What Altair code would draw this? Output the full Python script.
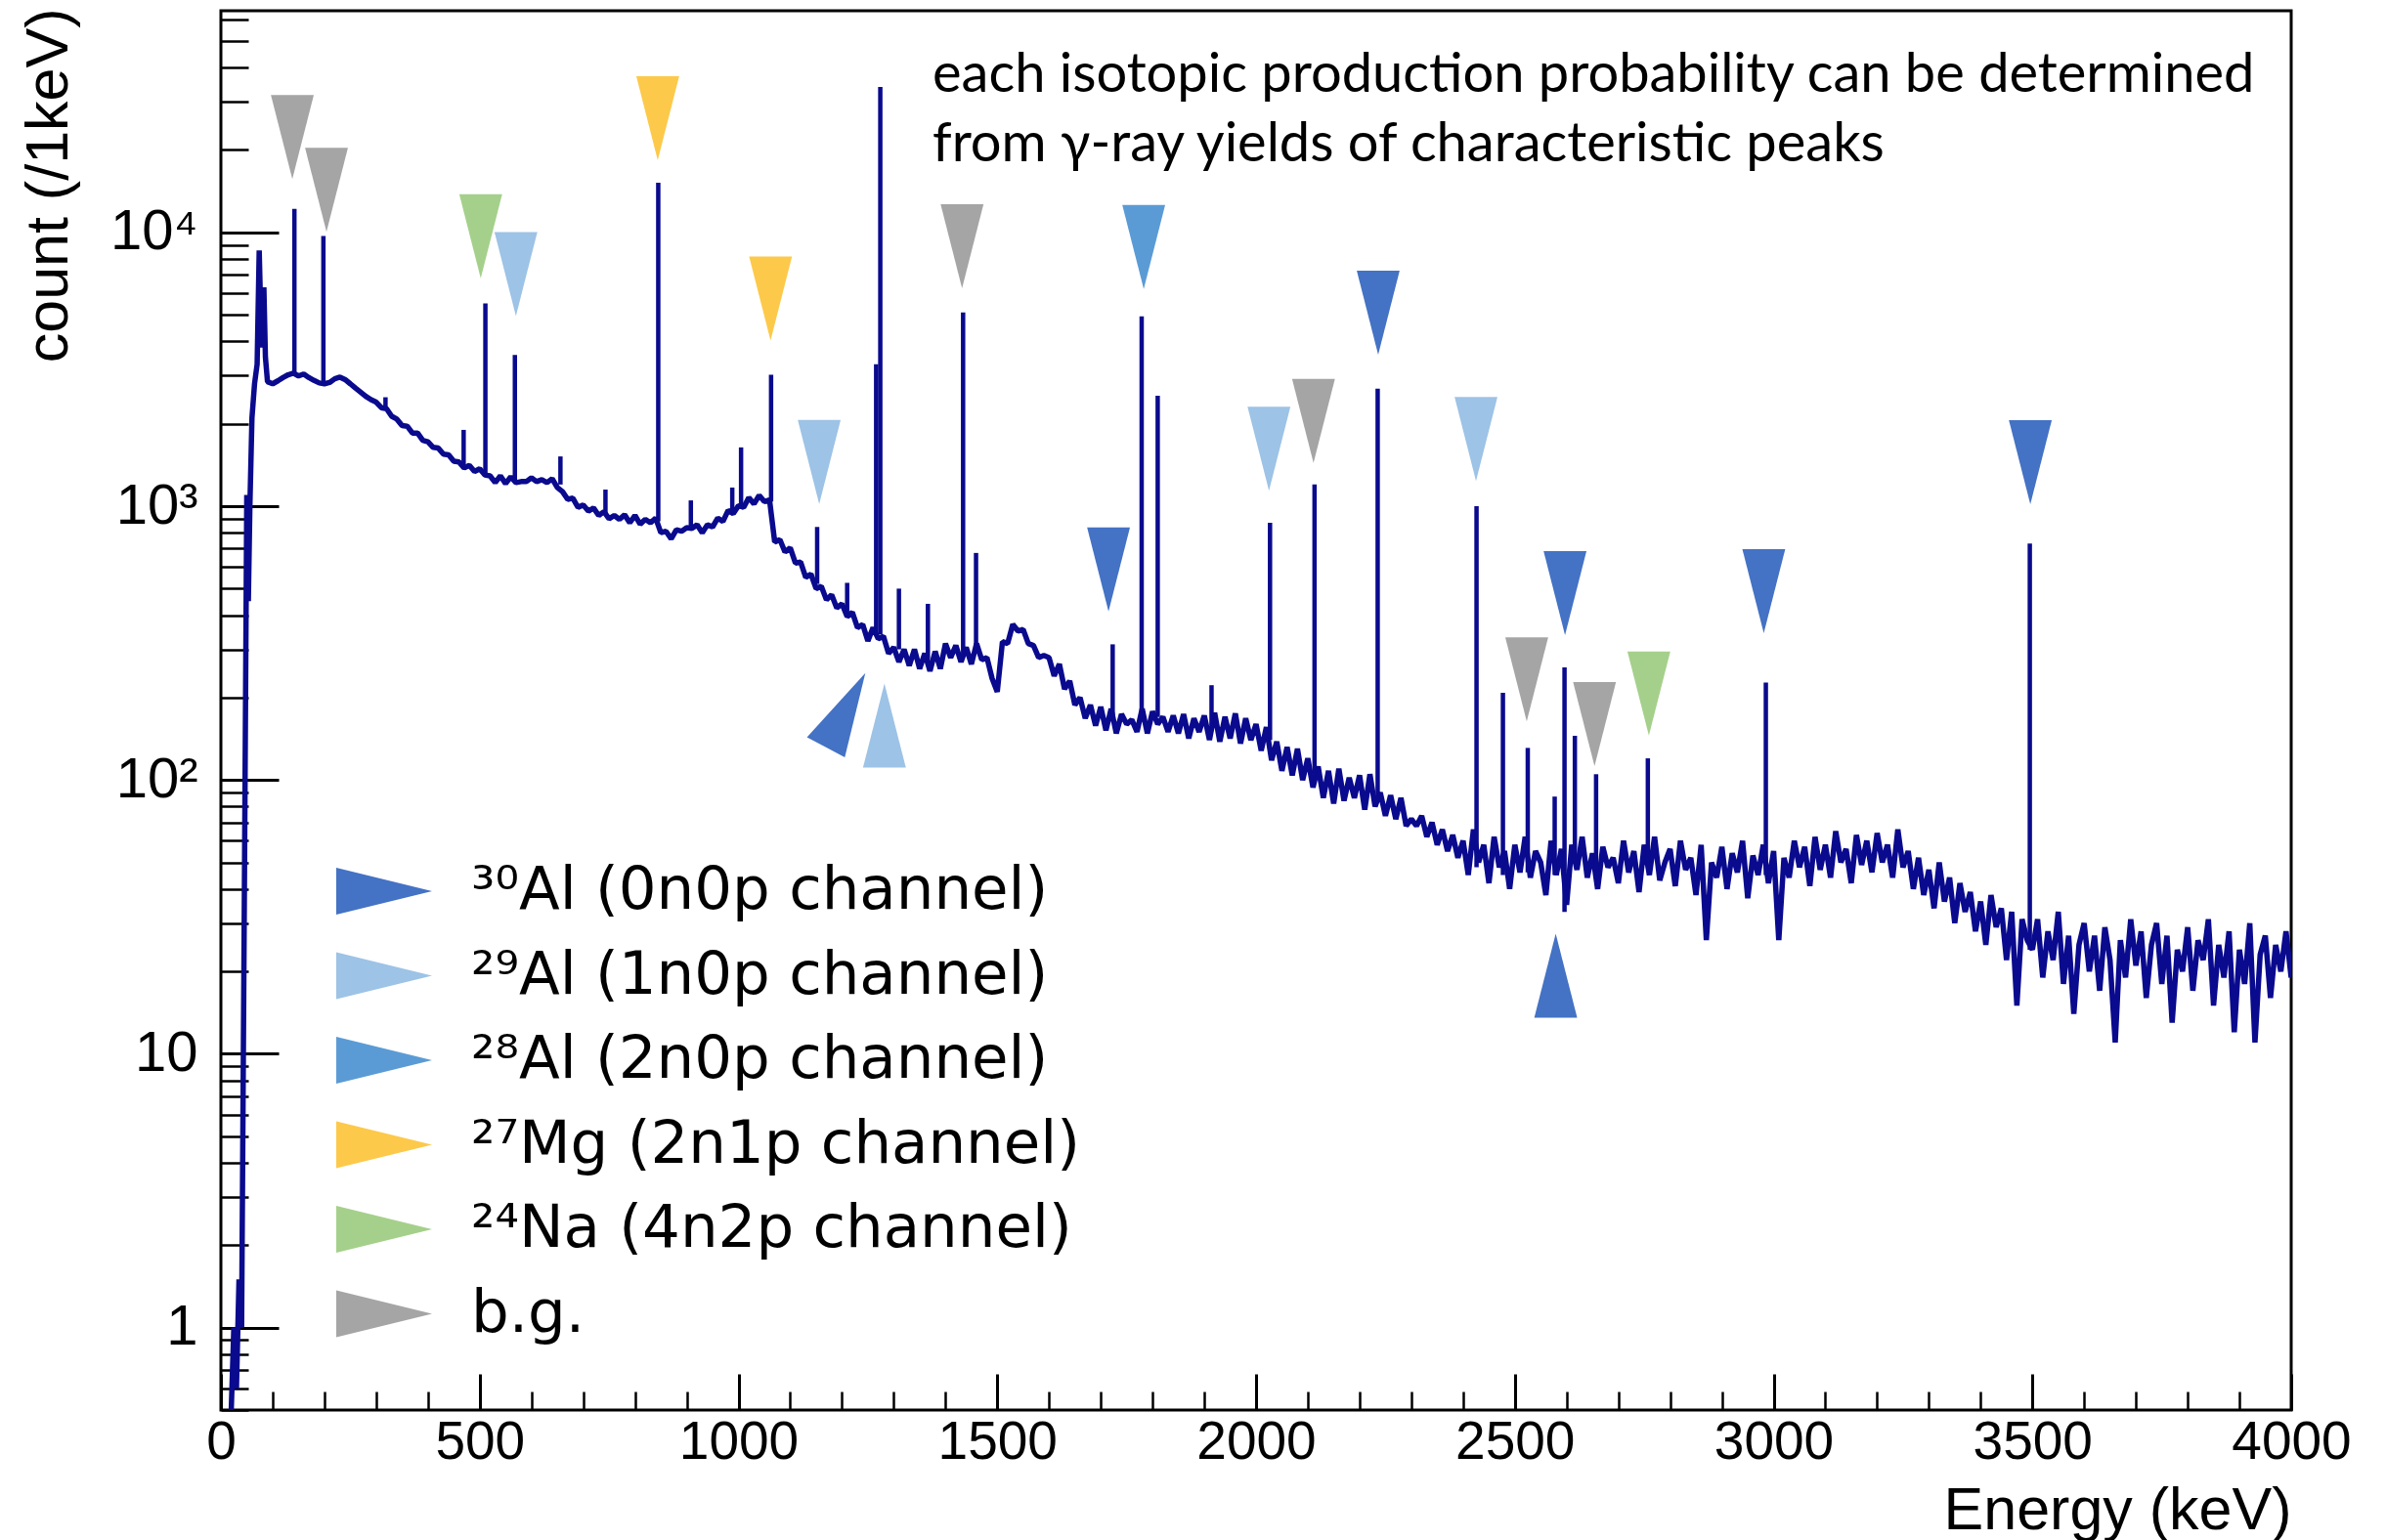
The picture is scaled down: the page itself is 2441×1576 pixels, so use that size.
import altair as alt
import pandas as pd

# ---------------- data ----------------
# start of spectrum (keV, counts per keV)
low_energy = [20, 25, 30, 35, 40, 45, 50, 53, 56, 60, 65, 70, 74, 77, 80, 83, 86]
low_counts = [0.5, 1, 0.6, 1.5, 1, 30, 1100, 450, 1000, 2100, 2800, 3300, 8600, 5000, 3800, 6300, 3500]

# continuum sampled every 10 keV from 90 keV to 4000 keV
cont_energy = list(range(90, 4001, 10))
continuum = [
    2850,
    2800, 2870, 2950, 3020, 3060, 2990, 3040, 2950, 2880, 2820,
    2800, 2830, 2920, 2960, 2900, 2800, 2700, 2610, 2520, 2450,
    2400, 2290, 2270, 2130, 2080, 1970, 1960, 1850, 1850, 1740,
    1720, 1640, 1630, 1550, 1540, 1460, 1450, 1380, 1410, 1340,
    1370, 1300, 1290, 1220, 1290, 1210, 1280, 1220, 1230, 1230,
    1270, 1230, 1250, 1220, 1260, 1170, 1130, 1060, 1070, 990,
    1010, 960, 985, 925, 955, 900, 925, 895, 930, 870,
    925, 860, 895, 870, 905, 800, 810, 760, 820, 810,
    835, 830, 855, 800, 855, 840, 905, 880, 965, 940,
    1005, 990, 1075, 1020, 1095, 1040, 1055, 740, 755, 680,
    705, 620, 625, 550, 565, 500, 510, 455, 475, 425,
    440, 395, 410, 360, 370, 322, 360, 328, 335, 290,
    305, 270, 300, 262, 300, 255, 290, 250, 295, 255,
    315, 280, 310, 270, 305, 265, 315, 275, 280, 235,
    210, 320, 315, 370, 350, 355, 315, 310, 280, 285,
    280, 240, 265, 215, 230, 188, 200, 168, 188, 158,
    185, 152, 182, 148, 174, 160, 166, 150, 182, 148,
    178, 160, 170, 150, 172, 148, 174, 142, 168, 150,
    172, 140, 176, 138, 170, 142, 175, 136, 168, 140,
    160, 128, 156, 118, 138, 108, 132, 104, 130, 100,
    120, 94, 112, 86, 108, 82, 110, 84, 102, 86,
    104, 78, 105, 80, 90, 74, 88, 72, 86, 68,
    72, 68, 74, 62, 70, 58, 66, 55, 63, 52,
    60, 45, 66, 50, 58, 42, 62, 48, 55, 40,
    58, 46, 62, 44, 55, 50, 38, 60, 45, 56,
    35, 58, 47, 62, 44, 54, 40, 57, 48, 52,
    42, 60, 46, 55, 39, 58, 45, 62, 43, 50,
    56, 41, 60, 47, 52, 38, 58, 26, 50, 44,
    57, 40, 54, 46, 60, 37, 53, 45, 58, 42,
    55, 26, 52, 44, 60, 48, 57, 41, 62, 47,
    58, 44, 65, 50, 56, 42, 63, 49, 60, 46,
    64, 50, 58, 44, 66, 48, 55, 40, 52, 38,
    47, 34, 50, 36, 44, 30, 42, 33, 39, 28,
    36, 25, 38, 29, 34, 22, 33, 15, 31, 26,
    24, 31, 19, 28, 22, 33, 18, 27, 14, 25,
    30, 20, 27, 17, 29, 22, 11, 26, 19, 31,
    21, 28, 16, 25, 30, 18, 27, 13, 24, 20,
    29, 17, 26, 22, 31, 15, 25, 19, 28, 12,
    24, 18, 30, 11, 23, 27, 16, 25, 20, 28,
    19,
]

# gamma-ray peaks: energy (keV), peak top, continuum under the peak
peak_energy = [142, 198, 318, 469, 511, 568, 656, 743, 845, 908, 988, 1005, 1063, 1152, 1210,
               1266, 1274, 1310, 1366, 1434, 1459, 1723, 1779, 1810, 1914, 2027, 2113, 2235,
               2426, 2477, 2525, 2577, 2596, 2616, 2657, 2757, 2985, 3495]
peak_top = [12200, 9700, 2500, 1900, 5500, 3570, 1520, 1150, 15200, 1050, 1170, 1640, 3020, 840, 525,
            3300, 34000, 500, 440, 5100, 675, 313, 4940, 2530, 222, 870, 1200, 2690,
            1000, 208, 131, 87, 258, 145, 105, 120, 227, 731]
peak_base = [3000, 2820, 2250, 1400, 1320, 1240, 1200, 930, 880, 830, 940, 980, 1040, 520, 410,
             340, 340, 300, 270, 290, 295, 165, 165, 170, 158, 140, 105, 85,
             48, 45, 46, 45, 33, 50, 47, 50, 45, 24]

# legend categories and colours
categories = ["³⁰Al (0n0p channel)", "²⁹Al (1n0p channel)", "²⁸Al (2n0p channel)",
              "²⁷Mg (2n1p channel)", "²⁴Na (4n2p channel)", "b.g."]
cat_colors = ["#4472C4", "#9DC3E6", "#5B9BD5", "#FDC94A", "#A5D08B", "#A5A5A5"]

# triangle markers: energy, count at marker centre, group, rotation (0 = pointing down)
tri_energy = [138, 204, 1432, 2111, 2523, 2654,
              502, 2759,
              570, 1156, 2025, 2425, 1282,
              844, 1062,
              1783,
              1715, 2236, 2597, 2981, 3496, 1207, 2579]
tri_count = [22300, 14300, 8900, 2050, 233, 160,
             9680, 207,
             7050, 1450, 1620, 1760, 158,
             26100, 5730,
             8840,
             587, 5090, 481, 489, 1447, 180, 19.3]
tri_group = ([categories[5]] * 6 + [categories[4]] * 2 + [categories[1]] * 5 +
             [categories[3]] * 2 + [categories[2]] * 1 + [categories[0]] * 7)
tri_angle = [0, 0, 0, 0, 0, 0,
             0, 0,
             0, 0, 0, 0, 180,
             0, 0,
             0,
             0, 0, 0, 0, 0, 208, 180]

note_lines = ["each isotopic production probability can be determined",
              "from γ-ray yields of characteristic peaks"]

x_major = [0, 500, 1000, 1500, 2000, 2500, 3000, 3500, 4000]
x_minor = list(range(0, 4001, 100))
y_major = [1, 10, 100, 1000, 10000]
y_minor = [0.5, 0.6, 0.7, 0.8, 0.9,
           2, 3, 4, 5, 6, 7, 8, 9,
           20, 30, 40, 50, 60, 70, 80, 90,
           200, 300, 400, 500, 600, 700, 800, 900,
           2000, 3000, 4000, 5000, 6000, 7000, 8000, 9000,
           20000, 30000, 40000, 50000, 60000]

# ---------------- styling ----------------
NAVY = "#0a0a8e"
FONT = "Liberation Sans"
DOWN = "M-0.51,-1L0.51,-1L0,1Z"
RIGHT = "M-1,-0.49L1,0L-1,0.49Z"

PW, PH = 2118, 1432

spec_df = pd.DataFrame({"energy": low_energy + cont_energy,
                        "count": low_counts + continuum})
peak_df = pd.DataFrame({"energy": peak_energy, "top": peak_top, "base": peak_base})
tri_df = pd.DataFrame({"energy": tri_energy, "count": tri_count,
                       "group": tri_group, "angle": tri_angle})

xs = alt.Scale(domain=[0, 4000], nice=False, zero=False)
ys = alt.Scale(type="log", domain=[0.5, 64500], nice=False)

main_x = alt.Axis(values=x_major, orient="bottom", tickSize=0, domain=False, grid=False,
                  labelFont=FONT, labelFontSize=55, labelColor="black", labelPadding=6,
                  labelFlush=False, labelOverlap=False, format="d",
                  title="Energy (keV)", titleFont=FONT, titleFontSize=61,
                  titleFontWeight="normal", titleColor="black",
                  titleX=PW, titleY=121, titleAlign="right", titleBaseline="alphabetic")
main_y = alt.Axis(values=y_major, orient="left", tickSize=0, domain=False, grid=False,
                  labelFont=FONT, labelFontSize=58, labelColor="black", labelPadding=24,
                  labelExpr="datum.value == 10000 ? '10⁴' : datum.value == 1000 ? '10³' : "
                            "datum.value == 100 ? '10²' : datum.value == 10 ? '10' : '1'",
                  title="count (/1keV)", titleFont=FONT, titleFontSize=61,
                  titleFontWeight="normal", titleColor="black", titleAngle=270,
                  titleX=-158, titleY=-3, titleAlign="right", titleBaseline="alphabetic")

line = alt.Chart(spec_df).mark_line(color=NAVY, strokeWidth=5.5, clip=True,
                                    strokeJoin="bevel").encode(
    x=alt.X("energy:Q", scale=xs, axis=main_x),
    y=alt.Y("count:Q", scale=ys, axis=main_y),
)


def tick_layer(xaxis, yaxis):
    return alt.Chart(spec_df.head(1)).mark_point(opacity=0).encode(
        x=alt.X("energy:Q", scale=xs, axis=xaxis, title=None),
        y=alt.Y("count:Q", scale=ys, axis=yaxis, title=None),
    )


def tick_axis(values, orient, length, width):
    return alt.Axis(values=values, orient=orient, offset=-length, tickSize=length,
                    tickWidth=width, tickColor="black", labels=False, domain=False,
                    grid=False)


tx_major = tick_layer(tick_axis(x_major, "bottom", 37, 3), None)
tx_minor = tick_layer(tick_axis(x_minor, "bottom", 19, 2.5), None)
ty_major = tick_layer(None, tick_axis(y_major, "left", 59, 3))
ty_minor = tick_layer(None, tick_axis(y_minor, "left", 28, 2.5))

peaks = alt.Chart(peak_df).mark_rule(color=NAVY, strokeWidth=4.5, clip=True).encode(
    x=alt.X("energy:Q", scale=xs, axis=None),
    y=alt.Y("base:Q", scale=ys, axis=None),
    y2="top:Q",
)

tris = alt.Chart(tri_df).mark_point(shape=DOWN, filled=True, size=7396, opacity=1,
                                    strokeWidth=0).encode(
    x=alt.X("energy:Q", scale=xs, axis=None),
    y=alt.Y("count:Q", scale=ys, axis=None),
    angle=alt.Angle("angle:Q", scale=None),
    color=alt.Color("group:N", scale=alt.Scale(domain=categories, range=cat_colors),
                    legend=alt.Legend(title=None, orient="none", legendX=118, legendY=852,
                                      direction="vertical", symbolType=RIGHT,
                                      symbolSize=9604, symbolStrokeWidth=0,
                                      symbolOpacity=1, labelFont="DejaVu Sans",
                                      labelFontSize=61, labelColor="black",
                                      labelOffset=40, labelLimit=0,
                                      rowPadding=7.5, padding=0)),
)

note = alt.Chart(pd.DataFrame({"k": [0]})).mark_text(
    align="left", baseline="alphabetic", font="Lato", fontSize=56, lineHeight=71,
    fontWeight=400, color="black").encode(
    x=alt.value(728), y=alt.value(83), text=alt.value(note_lines))

chart = alt.layer(line, tx_major, tx_minor, ty_major, ty_minor, peaks, tris, note).resolve_scale(
    x="shared", y="shared").resolve_axis(x="independent", y="independent").properties(
    width=PW, height=PH,
    autosize=alt.AutoSizeParams(type="none"),
    padding={"left": 226, "top": 11, "right": 97, "bottom": 133},
    background="white",
).configure_view(stroke="black", strokeWidth=3)

chart.save("out.html", embed_options={"renderer": "svg", "actions": False})
